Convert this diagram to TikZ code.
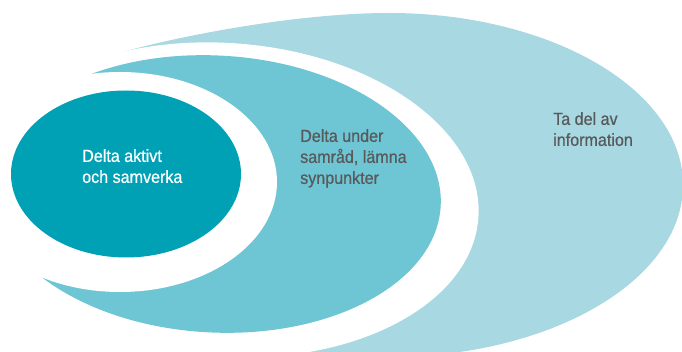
\documentclass[tikz,border=0pt]{standalone}
\usepackage{fontspec}
\newfontfamily\labelfont{Liberation Sans}[FakeStretch=0.92, FakeBold=0.6]
\definecolor{lightcyan}{RGB}{168, 216, 226}
\definecolor{midcyan}{RGB}{110, 198, 213}
\definecolor{deepcyan}{RGB}{0, 161, 181}
\definecolor{labelgray}{RGB}{88, 89, 91}

\begin{document}
\begin{tikzpicture}[x=1pt, y=-1pt,
  lbl/.style={anchor=north west, inner sep=0pt, align=left, text=#1, font=\labelfont\fontsize{17.5}{21}\selectfont},
  gap/.style={fill=white},
]
  \useasboundingbox (0,0) rectangle (682,352);
  \clip (0,0) rectangle (682,352);
  % outer ring
  \fill[lightcyan] (85,67) -- (112,55) .. controls (180,35) and (300,13) .. (389,13)
    arc[start angle=90, end angle=-90, x radius=294pt, y radius=172pt]
    -- (250,375) -- (170,340) -- (120,300) -- (50,220) -- (40,140) -- cycle;
  \fill[gap, rotate around={-4:(225,200)}] (225,200) ellipse [x radius=254pt, y radius=157pt];
  % middle ring
  \fill[midcyan, rotate around={-3:(215,194)}] (215,194) ellipse [x radius=226pt, y radius=138.5pt];
  \fill[gap] (120,182) ellipse [x radius=157pt, y radius=110pt];
  % core
  \fill[deepcyan] (126,174) ellipse [x radius=115pt, y radius=83.5pt];
  \node[lbl=white] (aktiv) at (82,149) {Delta aktivt\\och samverka};
  \node[lbl=labelgray] (samrad) at (300,129) {Delta under\\samråd, lämna\\synpunkter};
  \node[lbl=labelgray] (info) at (553,112) {Ta del av\\information};
\end{tikzpicture}
\end{document}
